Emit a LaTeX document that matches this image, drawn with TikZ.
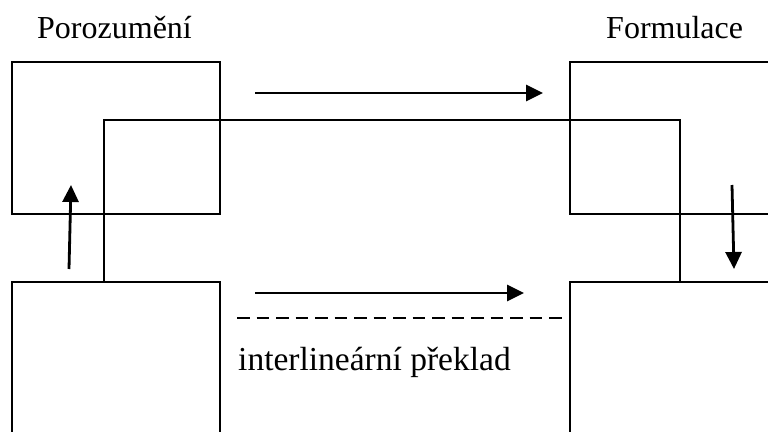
\documentclass[tikz,border=0pt]{standalone}
\usepackage{fontspec}
\setmainfont{Liberation Serif}
\usetikzlibrary{arrows.meta}
\begin{document}
\begin{tikzpicture}[x=1pt,y=-1pt,
  frame/.style={draw=black,line width=2.6pt},
  link/.style={draw=black,line width=2.3pt},
  flow/.style={draw=black,line width=2.8pt,-{Triangle[length=17pt,width=16pt]}},
  gloss/.style={draw=black,line width=1.8pt,dash pattern=on 12.5pt off 7pt},
  lbl/.style={anchor=base west,inner sep=0pt,font=\fontsize{32}{38}\selectfont}]
\useasboundingbox (0,0) rectangle (768,431);
% four boxes (right and bottom ones run off the page)
\coordinate (tlA) at (12,62);   \coordinate (tlB) at (220,214);
\coordinate (trA) at (570,62);  \coordinate (trB) at (775,214);
\coordinate (blA) at (12,282);  \coordinate (blB) at (220,440);
\coordinate (brA) at (570,282); \coordinate (brB) at (775,440);
\draw[frame] (tlA) rectangle (tlB);
\draw[frame] (trA) rectangle (trB);
\draw[frame] (blA) rectangle (blB);
\draw[frame] (brA) rectangle (brB);
% bridge joining the bottom boxes over the top
\coordinate (bL) at (104,282); \coordinate (bR) at (680,282);
\draw[link] (bL) |- (680,120) -- (bR);
% arrows
\coordinate (a1s) at (255,93);  \coordinate (a1e) at (543,93);
\coordinate (a2s) at (255,293); \coordinate (a2e) at (524,293);
\coordinate (a3s) at (69,269);  \coordinate (a3e) at (71,185);
\coordinate (a4s) at (732,185); \coordinate (a4e) at (734,269);
\draw[flow] (a1s) -- (a1e);
\draw[flow] (a2s) -- (a2e);
\draw[flow] (a3s) -- (a3e);
\draw[flow] (a4s) -- (a4e);
% dashed line
\coordinate (d1) at (237,318); \coordinate (d2) at (566,318);
\draw[gloss] (d1) -- (d2);
% labels
\node[lbl] (por) at (37,38) {Porozumění};
\node[lbl] (form) at (606,38) {Formulace};
\node[lbl,font=\fontsize{33.5}{40}\selectfont] (inter) at (238,370) {interlineární překlad};
\end{tikzpicture}
\end{document}
